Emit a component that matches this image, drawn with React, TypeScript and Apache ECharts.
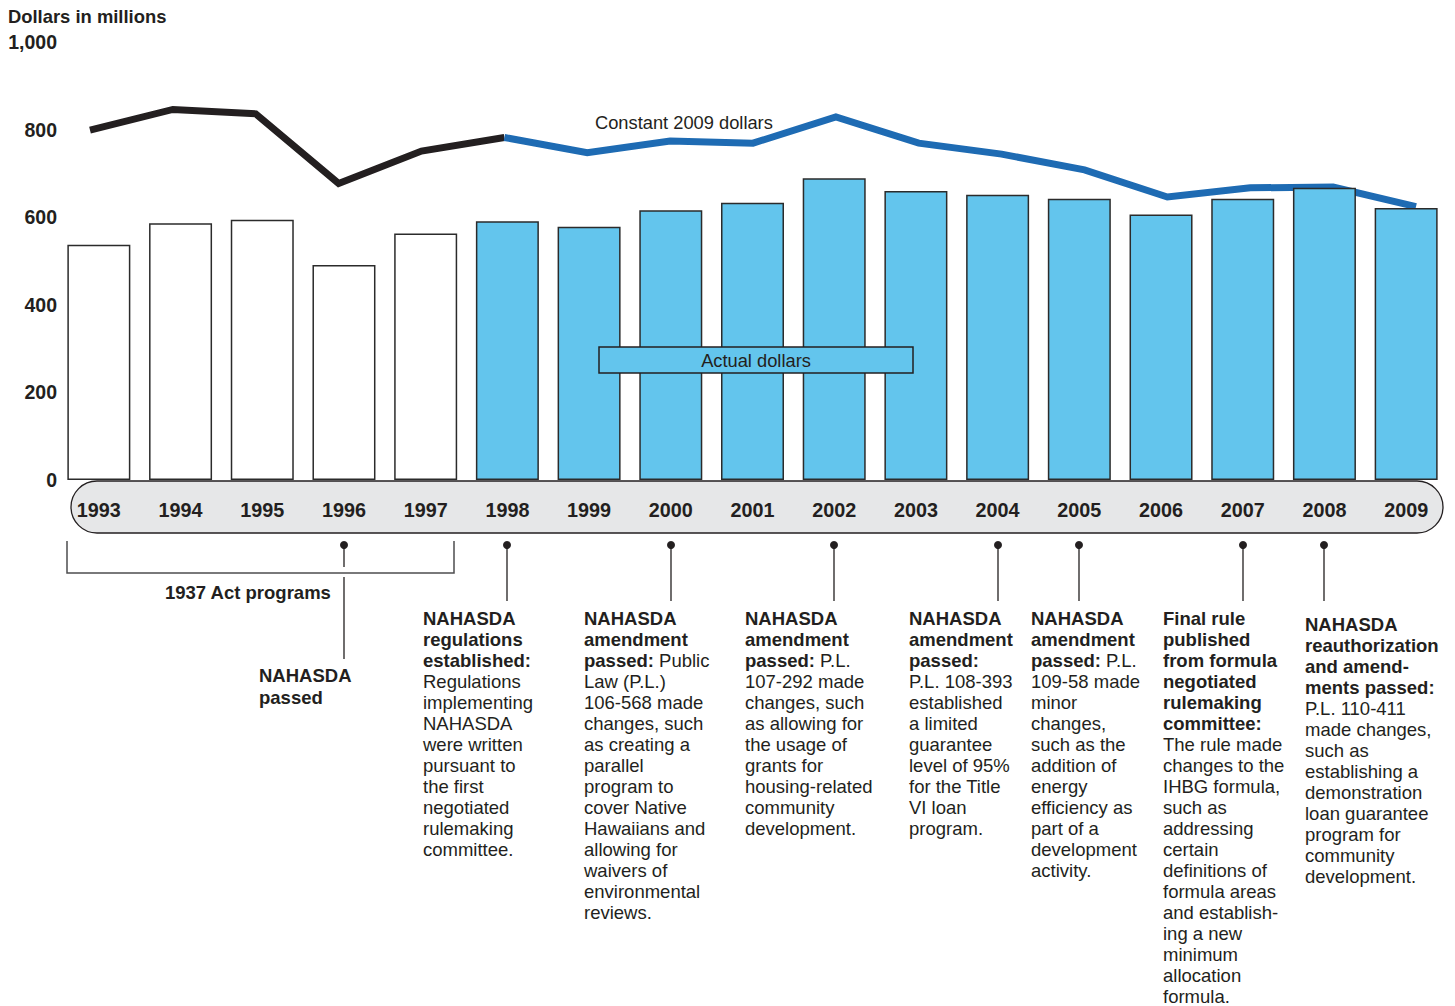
import React, { useEffect, useRef } from 'react';
import * as echarts from 'echarts';

const years = ['1993', '1994', '1995', '1996', '1997', '1998', '1999', '2000', '2001', '2002', '2003', '2004', '2005', '2006', '2007', '2008', '2009'];
const actualDollars = [537, 586, 594, 491, 563, 591, 578, 616, 633, 689, 660, 651, 642, 606, 642, 667, 621];
const constant2009 = [799, 846, 836, 677, 751, 782, 747, 774, 769, 829, 769, 744, 708, 646, 667, 669, 624];
const yTicks = [0, 200, 400, 600, 800, 1000];
const firstNahasdaIndex = 5; // 1998 onward is NAHASDA funding

const FONT = '"Liberation Sans", Arial, Helvetica, sans-serif';
const INK = '#231f20';
const LIGHT_BLUE = '#63c5ed';
const DARK_BLUE = '#1e6bb3';

type Note = { x: number; y: number; bold: string[]; tail: string; regular: string[] };

const notes: Note[] = [
  { x: 423, y: 608, bold: ['NAHASDA', 'regulations', 'established:'], tail: '', regular: ['Regulations', 'implementing', 'NAHASDA', 'were written', 'pursuant to', 'the first', 'negotiated', 'rulemaking', 'committee.'] },
  { x: 584, y: 608, bold: ['NAHASDA', 'amendment', 'passed:'], tail: ' Public', regular: ['Law (P.L.)', '106-568 made', 'changes, such', 'as creating a', 'parallel', 'program to', 'cover Native', 'Hawaiians and', 'allowing for', 'waivers of', 'environmental', 'reviews.'] },
  { x: 745, y: 608, bold: ['NAHASDA', 'amendment', 'passed:'], tail: ' P.L.', regular: ['107-292 made', 'changes, such', 'as allowing for', 'the usage of', 'grants for', 'housing-related', 'community', 'development.'] },
  { x: 909, y: 608, bold: ['NAHASDA', 'amendment', 'passed:'], tail: '', regular: ['P.L. 108-393', 'established', 'a limited', 'guarantee', 'level of 95%', 'for the Title', 'VI loan', 'program.'] },
  { x: 1031, y: 608, bold: ['NAHASDA', 'amendment', 'passed:'], tail: ' P.L.', regular: ['109-58 made', 'minor', 'changes,', 'such as the', 'addition of', 'energy', 'efficiency as', 'part of a', 'development', 'activity.'] },
  { x: 1163, y: 608, bold: ['Final rule', 'published', 'from formula', 'negotiated', 'rulemaking', 'committee:'], tail: '', regular: ['The rule made', 'changes to the', 'IHBG formula,', 'such as', 'addressing', 'certain', 'definitions of', 'formula areas', 'and establish-', 'ing a new', 'minimum', 'allocation', 'formula.'] },
  { x: 1305, y: 614, bold: ['NAHASDA', 'reauthorization', 'and amend-', 'ments passed:'], tail: '', regular: ['P.L. 110-411', 'made changes,', 'such as', 'establishing a', 'demonstration', 'loan guarantee', 'program for', 'community', 'development.'] },
];

// years with an event marker below the timeline
const markerYears = ['1996', '1998', '2000', '2002', '2004', '2005', '2007', '2008'];

const GRID_LEFT = 58;
const GRID_RIGHT = 8;
const GRID_TOP = 42;
const WIDTH = 1455;
const HEIGHT = 1006;
const NOTE_SIZE = 18.5;

function richText(n: Note) {
  const lines = n.bold.map((l, i) => `{b|${l}}` + (i === n.bold.length - 1 && n.tail ? `{r|${n.tail}}` : ''));
  return [...lines, ...n.regular.map((l) => `{r|${l}}`)].join('\n');
}

export default function App() {
  const ref = useRef<HTMLDivElement>(null);

  useEffect(() => {
    if (!ref.current) return;
    const chart = echarts.init(ref.current, undefined, { renderer: 'svg' });

    const step = (WIDTH - GRID_LEFT - GRID_RIGHT) / years.length;
    const catX = (year: string) => GRID_LEFT + (years.indexOf(year) + 0.5) * step;

    const graphics: any[] = [];
    graphics.push({
      type: 'text', x: 8, y: 16, z: 10,
      style: { text: 'Dollars in millions', font: `bold 18.4px ${FONT}`, fill: INK, verticalAlign: 'middle' },
    });
    graphics.push({
      type: 'rect', z: 0,
      shape: { x: 71, y: 481, width: 1372, height: 52, r: 26 },
      style: { fill: '#e6e7e8', stroke: INK, lineWidth: 1.3 },
    });
    graphics.push({
      type: 'rect', z: 20,
      shape: { x: 599, y: 347, width: 314, height: 26 },
      style: { fill: LIGHT_BLUE, stroke: INK, lineWidth: 1.5 },
    });
    graphics.push({
      type: 'text', x: 756, y: 360, z: 21,
      style: { text: 'Actual dollars', font: `18.3px ${FONT}`, fill: INK, align: 'center', verticalAlign: 'middle' },
    });
    graphics.push({
      type: 'text', x: 595, y: 122, z: 21,
      style: { text: 'Constant 2009 dollars', font: `18.3px ${FONT}`, fill: INK, verticalAlign: 'middle' },
    });
    // bracket for 1937 Act programs
    graphics.push({
      type: 'polyline', z: 10,
      shape: { points: [[67, 541], [67, 573], [454, 573], [454, 541]] },
      style: { stroke: '#4d4d4f', lineWidth: 1.5, fill: 'none' },
    });
    graphics.push({
      type: 'text', x: 165, y: 592, z: 10,
      style: { text: '1937 Act programs', font: `bold ${NOTE_SIZE}px ${FONT}`, fill: INK, verticalAlign: 'middle' },
    });
    graphics.push({
      type: 'text', x: 259, y: 664, z: 10,
      style: { text: 'NAHASDA\npassed', font: `bold ${NOTE_SIZE}px ${FONT}`, fill: INK, verticalAlign: 'top', lineHeight: 22 },
    });

    markerYears.forEach((yr) => {
      const x = Math.round(catX(yr));
      graphics.push({ type: 'circle', z: 10, shape: { cx: x, cy: 545, r: 4 }, style: { fill: INK } });
      if (yr === '1996') {
        graphics.push({ type: 'line', z: 10, shape: { x1: x, y1: 545, x2: x, y2: 567 }, style: { stroke: INK, lineWidth: 1.3 } });
        graphics.push({ type: 'line', z: 10, shape: { x1: x, y1: 577, x2: x, y2: 659 }, style: { stroke: INK, lineWidth: 1.3 } });
      } else {
        graphics.push({ type: 'line', z: 10, shape: { x1: x, y1: 545, x2: x, y2: 601 }, style: { stroke: INK, lineWidth: 1.3 } });
      }
    });

    notes.forEach((n) => {
      graphics.push({
        type: 'text', x: n.x, y: n.y, z: 10,
        style: {
          text: richText(n),
          verticalAlign: 'top',
          rich: {
            b: { fontFamily: FONT, fontWeight: 'bold', fontSize: NOTE_SIZE, lineHeight: 21, fill: INK },
            r: { fontFamily: FONT, fontWeight: 'normal', fontSize: NOTE_SIZE, lineHeight: 21, fill: INK },
          },
        },
      });
    });

    const option: any = {
      animation: false,
      backgroundColor: '#ffffff',
      grid: [
        { left: GRID_LEFT, right: GRID_RIGHT, top: GRID_TOP, bottom: HEIGHT - 480 },
        { left: 90, right: WIDTH - 1416, top: GRID_TOP, bottom: HEIGHT - 480 },
      ],
      xAxis: [
        {
          type: 'category', gridIndex: 0, data: years, boundaryGap: true, z: 10,
          axisLine: { show: false }, axisTick: { show: false },
          axisLabel: { fontFamily: FONT, fontWeight: 'bold', fontSize: 19.8, color: INK, margin: 30, verticalAlign: 'middle', interval: 0 },
        },
        { type: 'category', gridIndex: 1, data: years, boundaryGap: false, show: false },
      ],
      yAxis: [
        {
          type: 'value', gridIndex: 0, min: 0, max: 1000, interval: 200,
          axisLine: { show: false }, axisTick: { show: false }, splitLine: { show: false },
          axisLabel: {
            fontFamily: FONT, fontWeight: 'bold', fontSize: 19.5, color: INK, margin: 1,
            formatter: (v: number) => (yTicks.includes(v) ? v.toLocaleString('en-US') : ''),
          },
        },
        { type: 'value', gridIndex: 1, min: 0, max: 1000, show: false },
      ],
      series: [
        {
          name: 'Actual dollars', type: 'bar', xAxisIndex: 0, yAxisIndex: 0, barWidth: 63, z: 3,
          data: actualDollars.map((v, i) => ({
            value: v,
            itemStyle: { color: i < firstNahasdaIndex ? '#ffffff' : LIGHT_BLUE, borderColor: '#2b2b2b', borderWidth: 1.5 },
          })),
        },
        {
          name: 'Constant 2009 dollars (1937 Act)', type: 'line', xAxisIndex: 1, yAxisIndex: 1, z: 2,
          symbol: 'none', lineStyle: { color: INK, width: 7, join: 'miter' },
          data: constant2009.map((v, i) => (i <= firstNahasdaIndex ? v : '-')),
        },
        {
          name: 'Constant 2009 dollars', type: 'line', xAxisIndex: 1, yAxisIndex: 1, z: 2,
          symbol: 'none', lineStyle: { color: DARK_BLUE, width: 7, join: 'miter' },
          data: constant2009.map((v, i) => (i >= firstNahasdaIndex ? v : '-')),
        },
      ],
      graphic: graphics,
    };

    chart.setOption(option);
    return () => chart.dispose();
  }, []);

  return <div ref={ref} style={{ position: 'absolute', left: 0, top: 0, width: WIDTH, height: HEIGHT }} />;
}
